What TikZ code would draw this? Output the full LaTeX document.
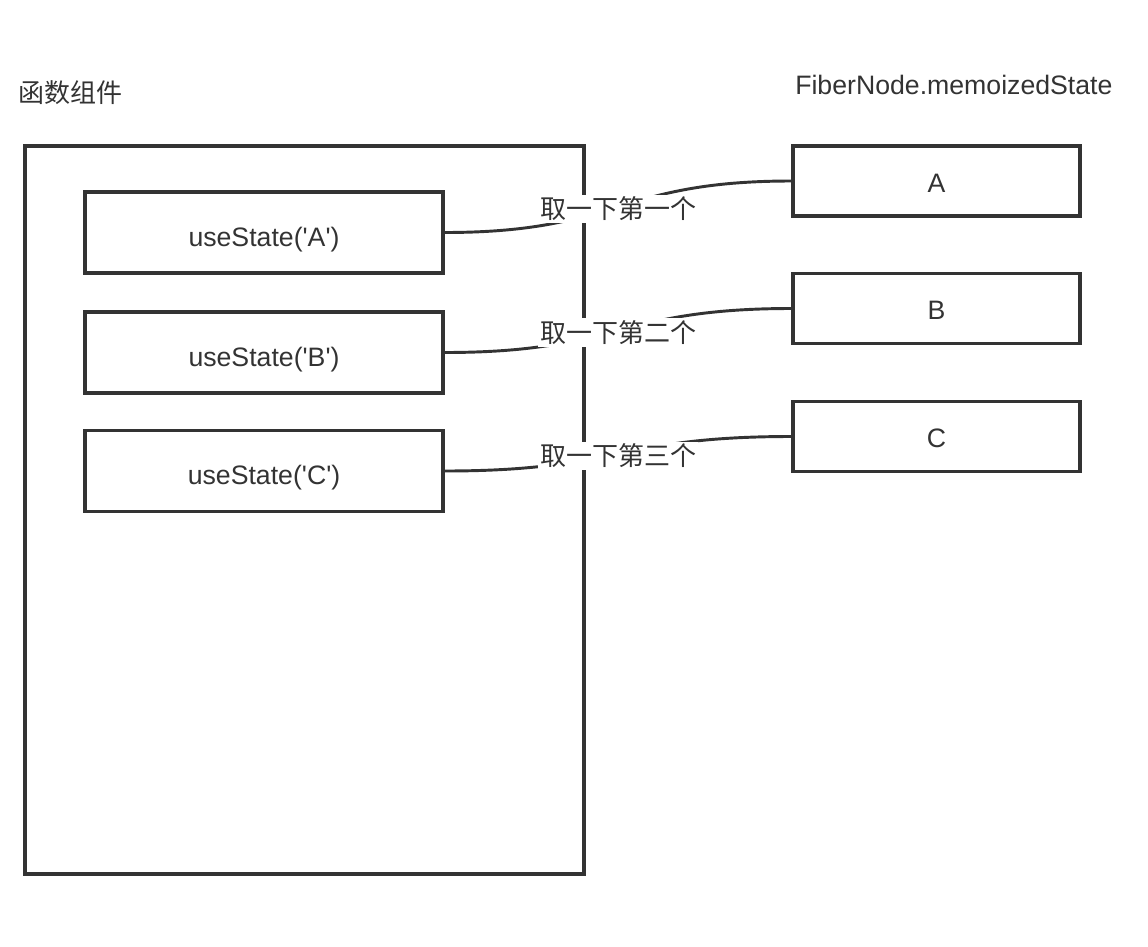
\documentclass[tikz,border=0pt]{standalone}
\usepackage{fontspec}
\newfontfamily\lat{Liberation Sans}
\newfontfamily\cjk{Noto Sans CJK SC}
\definecolor{ink}{HTML}{333333}
\begin{document}
\begin{tikzpicture}[x=0.75pt,y=-0.75pt,
  box/.style={draw=ink,line width=2.4pt,rectangle,inner sep=0pt,text=ink,font=\lat\fontsize{20}{24}\selectfont},
  conn/.style={draw=ink,line width=2.2pt},
  lbl/.style={fill=white,inner sep=1.5pt,text=ink,font=\cjk\fontsize{19.5}{23}\selectfont},
  ttl/.style={inner sep=0pt,text=ink}]
\useasboundingbox (0,0) rectangle (1148,946);
\node[ttl,anchor=west,font=\cjk\fontsize{19.5}{23}\selectfont] (t1) at (18,93) {函数组件};
\node[ttl,anchor=west,font=\lat\fontsize{20}{24}\selectfont] (t2) at (795,85) {FiberNode.memoizedState};
\node[box,minimum width=419.25pt,minimum height=546pt] (outer) at (304.5,510) {};
\node[box,minimum width=268.5pt,minimum height=60.75pt] (uA) at (264,232.5) {\raisebox{-10.3pt}[0pt][0pt]{useState('A')}};
\node[box,minimum width=268.5pt,minimum height=60.75pt] (uB) at (264,352.5) {\raisebox{-10.3pt}[0pt][0pt]{useState('B')}};
\node[box,minimum width=268.5pt,minimum height=60.75pt] (uC) at (264,471) {\raisebox{-10.3pt}[0pt][0pt]{useState('C')}};
\node[box,minimum width=215.25pt,minimum height=52.5pt] (sA) at (936.5,181) {\raisebox{-8.6pt}[0pt][0pt]{A}};
\node[box,minimum width=215.25pt,minimum height=52.5pt] (sB) at (936.5,308.5) {\raisebox{-8.6pt}[0pt][0pt]{B}};
\node[box,minimum width=215.25pt,minimum height=52.5pt] (sC) at (936.5,436.5) {\raisebox{-8.6pt}[0pt][0pt]{C}};
\draw[conn] (uA.east) .. controls +(175,0) and +(-175,0) .. (sA.west) node[midway,lbl,yshift=-1.5pt] (lA) {取一下第一个};
\draw[conn] (uB.east) .. controls +(175,0) and +(-175,0) .. (sB.west) node[midway,lbl,yshift=-1.5pt] (lB) {取一下第二个};
\draw[conn] (uC.east) .. controls +(175,0) and +(-175,0) .. (sC.west) node[midway,lbl,yshift=-1.5pt] (lC) {取一下第三个};
\end{tikzpicture}
\end{document}
